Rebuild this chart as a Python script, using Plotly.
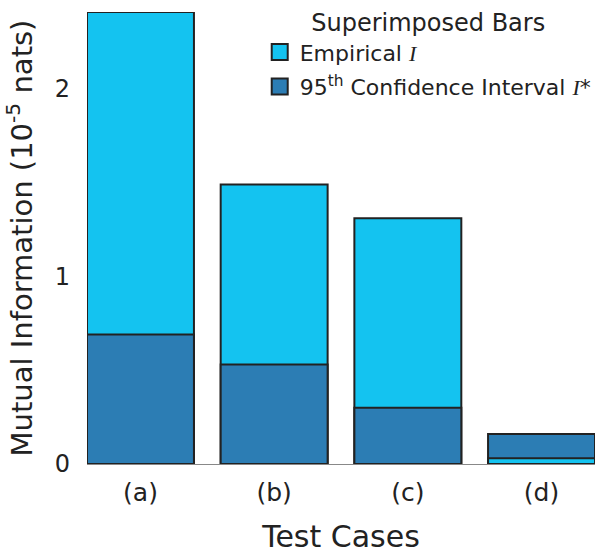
import plotly.graph_objects as go

categories = ["(a)", "(b)", "(c)", "(d)"]
empirical = [2.41, 1.49, 1.31, 0.03]
ci95 = [0.69, 0.53, 0.30, 0.16]

light = "#14C3F0"
dark = "#2C7DB4"
edge = "#222222"
font = "DejaVu Sans"
ital = '<i><span style="font-family:Liberation Serif">I</span></i>'
name_emp = "Empirical " + ital
name_ci = "95<sup>th</sup> Confidence Interval " + ital + "*"

# draw the taller bar first in each category
emp_back = [e if e > c else None for e, c in zip(empirical, ci95)]
emp_front = [e if e <= c else None for e, c in zip(empirical, ci95)]

fig = go.Figure()
fig.add_trace(go.Bar(x=categories, y=emp_back, name=name_emp,
                     marker=dict(color=light, line=dict(color=edge, width=2)),
                     legendgroup="emp", showlegend=False))
fig.add_trace(go.Bar(x=categories, y=ci95, name=name_ci,
                     marker=dict(color=dark, line=dict(color=edge, width=2)),
                     legendgroup="ci", showlegend=False))
fig.add_trace(go.Bar(x=categories, y=emp_front, name=name_emp,
                     marker=dict(color=light, line=dict(color=edge, width=2)),
                     legendgroup="emp", showlegend=False))

# legend entries with larger swatches
for nm, col, grp in [(name_emp, light, "emp"), (name_ci, dark, "ci")]:
    fig.add_trace(go.Scatter(x=[None], y=[None], mode="markers", name=nm,
                             legendgroup=grp,
                             marker=dict(symbol="square", size=16, color=col,
                                         line=dict(color=edge, width=2))))

fig.update_layout(
    barmode="overlay",
    bargap=0.2,
    width=604, height=556,
    margin=dict(l=87, r=9, t=12, b=92, autoexpand=False),
    plot_bgcolor="white", paper_bgcolor="white",
    font=dict(family=font, color="#222222", size=22),
    showlegend=True,
    legend=dict(
        title=dict(text="Superimposed Bars", side="top center",
                   font=dict(size=24)),
        x=0.34, xanchor="left", y=1.0265, yanchor="top",
        bgcolor="rgba(0,0,0,0)", font=dict(size=22),
        traceorder="grouped", tracegroupgap=3,
    ),
    xaxis=dict(
        showline=True, linecolor="#888888", linewidth=1,
        showgrid=False, ticks="", ticklabelstandoff=6,
        tickfont=dict(size=25), automargin=False,
        title=dict(text="Test Cases", font=dict(size=30), standoff=19),
        range=[-0.4, 3.4],
    ),
    yaxis=dict(
        range=[0, 2.41], showgrid=False, zeroline=False, showline=False,
        tickvals=[0, 1, 2], ticks="", ticklabelstandoff=16,
        tickfont=dict(size=24), automargin=False,
        title=dict(text="Mutual Information (10<sup>-5</sup> nats)",
                   font=dict(size=29), standoff=13),
    ),
)

fig.write_html("out.html", config={"displayModeBar": False},
               post_script="document.body.style.margin='0';")
